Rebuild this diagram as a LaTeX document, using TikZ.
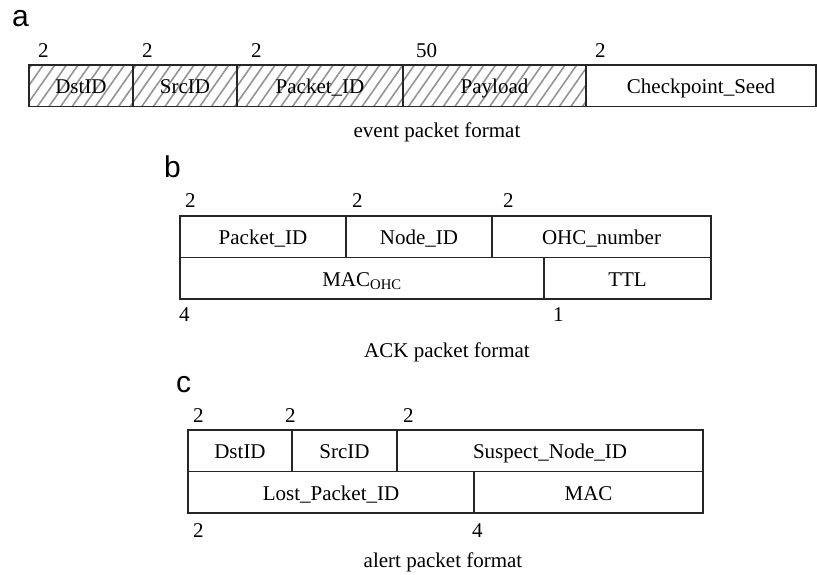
\documentclass[tikz,border=0pt]{standalone}
\usepackage{fontspec}
\setmainfont{Liberation Serif}
\setsansfont{Liberation Sans}
\usetikzlibrary{positioning, patterns.meta}

\tikzset{
  field/.style={draw=black!85, line width=1.1pt, inner sep=0pt, outer sep=0pt,
    minimum height=41.5pt, text height=17pt, text depth=1pt,
    font=\fontsize{21}{25}\selectfont},
  hatched/.style={field, pattern={Lines[angle=55, distance=9.5pt, line width=1.6pt]},
    pattern color=black!42},
  size/.style={anchor=base west, inner sep=0pt, font=\fontsize{21}{25}\selectfont},
  caption/.style={anchor=base, inner sep=0pt, font=\fontsize{21}{25}\selectfont},
  panel/.style={anchor=base west, inner sep=0pt, font=\sffamily\fontsize{30}{36}\selectfont}
}

\begin{document}
\begin{tikzpicture}[x=1pt, y=-1pt]
\useasboundingbox (0,0) rectangle (817,574);

% a
\node[panel] (la) at (12,26) {a};
\node[hatched, minimum width=104, anchor=north west] (eDst) at (29,65) {DstID};
\node[hatched, minimum width=104, right=0pt of eDst] (eSrc) {SrcID};
\node[hatched, minimum width=166, right=0pt of eSrc] (ePkt) {Packet\_ID};
\node[hatched, minimum width=183, right=0pt of ePkt] (ePay) {Payload};
\node[field, minimum width=230, right=0pt of ePay] (eSeed) {Checkpoint\_Seed};
\node[size] (eDstLen) at ([xshift=9pt, yshift=8pt]eDst.north west) {2};
\node[size] (eSrcLen) at ([xshift=9pt, yshift=8pt]eSrc.north west) {2};
\node[size] (ePktLen) at ([xshift=14pt, yshift=8pt]ePkt.north west) {2};
\node[size] (ePayLen) at ([xshift=13pt, yshift=8pt]ePay.north west) {50};
\node[size] (eSeedLen) at ([xshift=9pt, yshift=8pt]eSeed.north west) {2};
\node[caption] (eCap) at (437,137) {event packet format};

% b
\node[panel] (lb) at (164,177) {b};
\node[field, minimum width=166, anchor=north west] (kPkt) at (180,216) {Packet\_ID};
\node[field, minimum width=146, right=0pt of kPkt] (kNode) {Node\_ID};
\node[field, minimum width=219, right=0pt of kNode] (kOhc) {OHC\_number};
\node[field, minimum width=364, anchor=north west] (kMac) at (kPkt.south west) {MAC\textsubscript{OHC}};
\node[field, minimum width=167, right=0pt of kMac] (kTtl) {TTL};
\node[size] (kPktLen) at ([xshift=5pt, yshift=9pt]kPkt.north west) {2};
\node[size] (kNodeLen) at ([xshift=6pt, yshift=9pt]kNode.north west) {2};
\node[size] (kOhcLen) at ([xshift=11pt, yshift=9pt]kOhc.north west) {2};
\node[size] (kMacLen) at ([xshift=-1pt, yshift=-22pt]kMac.south west) {4};
\node[size] (kTtlLen) at ([xshift=9pt, yshift=-22pt]kTtl.south west) {1};
\node[caption] (kCap) at (447,357) {ACK packet format};

% c
\node[panel] (lc) at (176,392) {c};
\node[field, minimum width=104, anchor=north west] (aDst) at (188,430) {DstID};
\node[field, minimum width=105, right=0pt of aDst] (aSrc) {SrcID};
\node[field, minimum width=306, right=0pt of aSrc] (aSus) {Suspect\_Node\_ID};
\node[field, minimum width=286, anchor=north west] (aLost) at (aDst.south west) {Lost\_Packet\_ID};
\node[field, minimum width=229, right=0pt of aLost] (aMac) {MAC};
\node[size] (aDstLen) at ([xshift=5pt, yshift=8pt]aDst.north west) {2};
\node[size] (aSrcLen) at ([xshift=-7pt, yshift=8pt]aSrc.north west) {2};
\node[size] (aSusLen) at ([xshift=6pt, yshift=8pt]aSus.north west) {2};
\node[size] (aLostLen) at ([xshift=5pt, yshift=-24pt]aLost.south west) {2};
\node[size] (aMacLen) at ([xshift=-2pt, yshift=-24pt]aMac.south west) {4};
\node[caption] (aCap) at (443,567) {alert packet format};
\end{tikzpicture}
\end{document}
